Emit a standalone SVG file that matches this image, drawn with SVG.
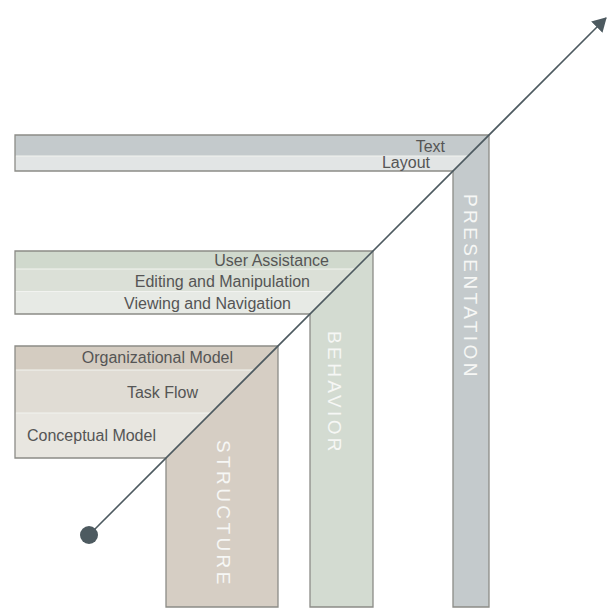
<svg xmlns="http://www.w3.org/2000/svg" width="608" height="609" viewBox="0 0 608 609">
  <defs>
    <style>
      .outline { fill: none; stroke: #8c8c87; stroke-width: 1.3; stroke-linejoin: miter; }
      .divider { stroke: #f2f3f0; stroke-width: 1.2; }
      .label { font-family: "Liberation Sans", Arial, Helvetica, sans-serif; font-size: 16px; fill: #555555; }
      .plane { font-family: "Liberation Sans", Arial, Helvetica, sans-serif; font-size: 19px; fill: #f6f7f5; letter-spacing: 3.4px; }
      .axis { stroke: #4d5a60; stroke-width: 1.6; fill: none; }
    </style>
    <marker id="arrowhead" viewBox="0 0 14 16" refX="13" refY="8" markerWidth="14" markerHeight="16" markerUnits="userSpaceOnUse" orient="auto">
      <path d="M0,0 L14,8 L0,16 Z" fill="#4d5a60"/>
    </marker>
  </defs>

  <rect width="608" height="609" fill="#ffffff"/>

  <!-- Presentation plane -->
  <g id="presentation">
    <polygon points="15,135 489,135 468,156 15,156" fill="#c4cacc"/>
    <polygon points="15,156 468,156 453,171 15,171" fill="#e2e5e5"/>
    <polygon points="489,135 489,607 453,607 453,171" fill="#c4cacc"/>
    <line class="divider" x1="15.5" y1="156" x2="468" y2="156"/>
    <polygon class="outline" points="15,135 489,135 489,607 453,607 453,171 15,171"/>
    <text class="label" x="445" y="152" text-anchor="end">Text</text>
    <text class="label" x="430" y="168" text-anchor="end">Layout</text>
    <text class="plane" transform="translate(464,194) rotate(90)">PRESENTATION</text>
  </g>

  <!-- Behavior plane -->
  <g id="behavior">
    <polygon points="15,251 373,251 355,269 15,269" fill="#d0d9cd"/>
    <polygon points="15,269 355,269 332.5,291.5 15,291.5" fill="#dbe0d7"/>
    <polygon points="15,291.5 332.5,291.5 310,314 15,314" fill="#e7eae5"/>
    <polygon points="373,251 373,607 310,607 310,314" fill="#d3dbd1"/>
    <line class="divider" x1="15.5" y1="269" x2="355" y2="269"/>
    <line class="divider" x1="15.5" y1="291.5" x2="332.5" y2="291.5"/>
    <polygon class="outline" points="15,251 373,251 373,607 310,607 310,314 15,314"/>
    <text class="label" x="329" y="266" text-anchor="end">User Assistance</text>
    <text class="label" x="310" y="287" text-anchor="end">Editing and Manipulation</text>
    <text class="label" x="291" y="309" text-anchor="end">Viewing and Navigation</text>
    <text class="plane" transform="translate(328,331) rotate(90)">BEHAVIOR</text>
  </g>

  <!-- Structure plane -->
  <g id="structure">
    <polygon points="15,346 278,346 254,370 15,370" fill="#d4ccc1"/>
    <polygon points="15,370 254,370 211,413 15,413" fill="#e0dcd4"/>
    <polygon points="15,413 211,413 166,458 15,458" fill="#e8e6e0"/>
    <polygon points="278,346 278,607 166,607 166,458" fill="#d6cec4"/>
    <line class="divider" x1="15.5" y1="370" x2="254" y2="370"/>
    <line class="divider" x1="15.5" y1="413" x2="211" y2="413"/>
    <polygon class="outline" points="15,346 278,346 278,607 166,607 166,458 15,458"/>
    <text class="label" x="233" y="363" text-anchor="end">Organizational Model</text>
    <text class="label" x="198" y="398" text-anchor="end">Task Flow</text>
    <text class="label" x="27" y="441">Conceptual Model</text>
    <text class="plane" transform="translate(217,440) rotate(90)">STRUCTURE</text>
  </g>

  <!-- Connectors: the diagonal axis from abstract to concrete -->
  <g id="connectors">
    <line class="axis" x1="89" y1="535" x2="606" y2="18" marker-end="url(#arrowhead)"/>
    <circle cx="89" cy="535" r="9" fill="#4d5a60"/>
  </g>
</svg>
